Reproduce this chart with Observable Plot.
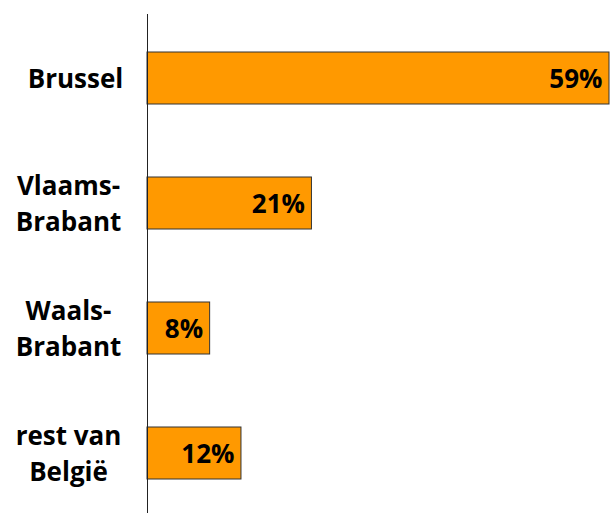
<!DOCTYPE html>
<html>
<head>
<meta charset="utf-8">
<script src="https://cdn.jsdelivr.net/npm/d3@7"></script>
<script src="https://cdn.jsdelivr.net/npm/@observablehq/plot@0.6"></script>
<style>
  html, body { margin: 0; padding: 0; background: #fff; }
  #chart svg { display: block; }
</style>
</head>
<body>
<div id="chart"></div>
<script>
const regions = ["Brussel", "Vlaams-\nBrabant", "Waals-\nBrabant", "rest van\nBelgië"];
const shares = [59, 21, 8, 12];
const valueLabels = ["59%", "21%", "8%", "12%"];

const data = regions.map((r, i) => ({region: r, share: shares[i], label: valueLabels[i]}));

const font = "'Open Sans', sans-serif";
const chart = Plot.plot({
  width: 613,
  height: 513,
  marginLeft: 147,
  marginRight: 4,
  marginTop: 14,
  marginBottom: 0,
  style: {fontFamily: font, fontWeight: "bold", fontSize: "26px", color: "#000", background: "#fff"},
  x: {domain: [0, 59], axis: null},
  y: {domain: regions, paddingInner: 0.587, paddingOuter: 0.274, align: 0.52, label: null},
  marks: [
    Plot.barX(data, {x: "share", y: "region", fill: "#FF9900", stroke: "#333", strokeWidth: 1}),
    Plot.text(data, {x: "share", y: "region", text: "label", textAnchor: "end", dx: -7, dy: 1, fill: "#000", fontSize: 26, fontWeight: "bold", fontFamily: font}),
    Plot.ruleX([0], {stroke: "#222", strokeWidth: 1}),
    Plot.axisY({ticks: regions.slice(1), tickSize: 0, tickPadding: 79, textAnchor: "middle", fontSize: 26, fontWeight: "bold", fill: "#000", lineHeight: 1.37, dy: -2}),
    Plot.axisY({ticks: regions.slice(0, 1), tickSize: 0, tickPadding: 72, textAnchor: "middle", fontSize: 26, fontWeight: "bold", fill: "#000", dy: 1})
  ]
});
document.getElementById("chart").appendChild(chart);
</script>
</body>
</html>
